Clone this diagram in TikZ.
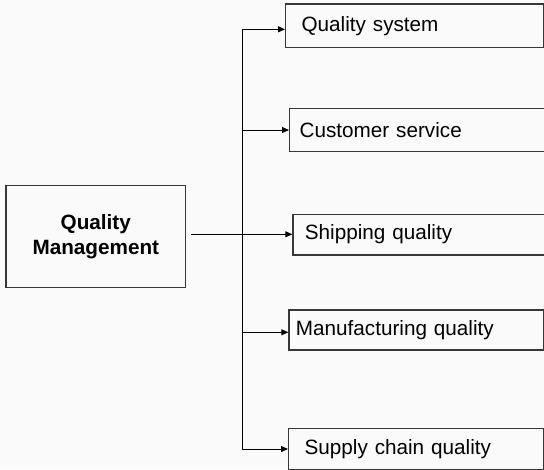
\documentclass[tikz,border=0pt]{standalone}
\usepackage{fontspec}
\setmainfont{Liberation Sans}
\usetikzlibrary{positioning}
\usetikzlibrary{arrows.meta}
\definecolor{boxgray}{RGB}{55,55,55}
\definecolor{paper}{RGB}{250,250,250}

\begin{document}
\begin{tikzpicture}[x=1pt, y=-1pt, >={Triangle[length=7pt,width=6pt]},
    every node/.style={font=\fontsize{20.7}{24.7}\selectfont},
    itembox/.style={draw=boxgray, line width=1.2pt, anchor=west, align=left}]

        \useasboundingbox (0,0) rectangle (544,469);
        \fill[paper] (0,0) rectangle (544,469);

        % Left box
        \node[draw=boxgray, line width=1.2pt, minimum width=179.7pt, minimum height=102pt,
              align=center, font=\fontsize{20.7}{24.7}\selectfont\bfseries] (qm) at (95.8,236.7) {%
            Quality\\Management};

        % Right boxes
        \node[itembox, inner xsep=16pt, text width=226pt, minimum height=43.3pt] (qs) at (285,25.7) {Quality system};
        \node[itembox, inner xsep=10pt, text width=242pt, minimum height=43.4pt] (cs) at (289,130) {Customer service};
        \node[itembox, inner xsep=12pt, text width=236pt, minimum height=40.7pt] (ship) at (292.3,234.6) {Shipping quality};
        \node[itembox, inner xsep=7pt, text width=240.7pt, minimum height=40pt] (manuf) at (288.3,330) {Manufacturing quality};
        \node[itembox, inner xsep=16pt, text width=223pt, minimum height=41.2pt] (supply) at (288,448.9) {Supply chain quality};

        % Branch points
        \coordinate (jqs) at (242,29.3);
        \coordinate (jcs) at (242,130);
        \coordinate (jship) at (242,234.3);
        \coordinate (jmanuf) at (242,332.3);
        \coordinate (jsupply) at (242,449);

        \draw[line width=1pt] (jqs) -- (jsupply);
        \draw[line width=1pt, ->] ([xshift=5pt]qm.east |- jship) -- (jship -| ship.west);
        \draw[line width=1pt, ->] (jqs) -- (jqs -| qs.west);
        \draw[line width=1pt, ->] (jcs) -- (jcs -| cs.west);
        \draw[line width=1pt, ->] (jmanuf) -- (jmanuf -| manuf.west);
        \draw[line width=1pt, ->] (jsupply) -- (jsupply -| supply.west);

    \end{tikzpicture}
\end{document}
